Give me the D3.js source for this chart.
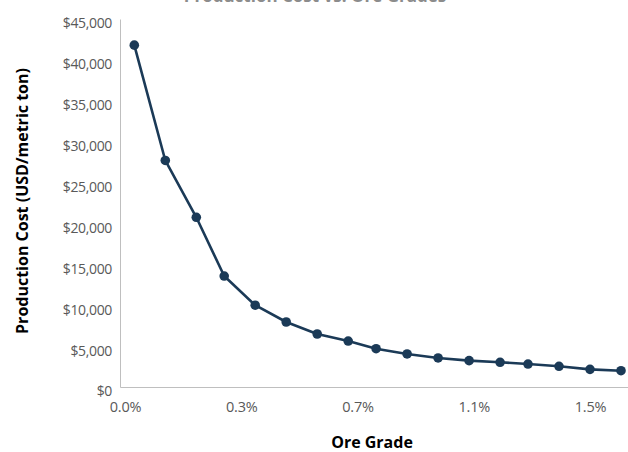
<!DOCTYPE html>
<html>
<head>
<meta charset="utf-8">
<script src="https://cdn.jsdelivr.net/npm/d3@7"></script>
<style>
  html, body { margin: 0; padding: 0; background: #fff; }
  svg { display: block; }
</style>
</head>
<body>
<svg id="chart" width="628" height="452"></svg>
<script>
// ---- data ----
const chartTitle = "Production Cost vs. Ore Grades";
const oreGrades = [0.03, 0.13, 0.23, 0.32, 0.42, 0.52, 0.62, 0.72, 0.81, 0.91, 1.01, 1.11, 1.21, 1.30, 1.40, 1.50, 1.60];
const productionCosts = [41800, 27700, 20750, 13570, 10000, 7950, 6480, 5620, 4680, 4040, 3550, 3220, 3020, 2810, 2530, 2160, 1990];
const xTickValues = [0, 0.375, 0.75, 1.125, 1.5];
const xTickLabels = ["0.0%", "0.3%", "0.7%", "1.1%", "1.5%"];
const yTickValues = [0, 5000, 10000, 15000, 20000, 25000, 30000, 35000, 40000, 45000];
const xAxisTitle = "Ore Grade";
const yAxisTitle = "Production Cost (USD/metric ton)";

// ---- layout ----
const svg = d3.select("#chart");
const plotLeft = 120, plotRight = 628, plotTop = 19, plotBottom = 387;
const pxPerPct = 310, zeroX = 125;
const x = d3.scaleLinear()
  .domain([(plotLeft - zeroX) / pxPerPct, (plotRight - zeroX) / pxPerPct])
  .range([plotLeft, plotRight]);
const y = d3.scaleLinear().domain([0, 45000]).range([plotBottom, plotTop]);

const font = "'Open Sans', 'Noto Sans', sans-serif";
const labelColor = "#595959";
const axisColor = "#bfbfbf";
const lineColor = "#1b3a57";

// title (cut off at top, as in the reference)
svg.append("text")
  .attr("x", 315).attr("y", 2)
  .attr("text-anchor", "middle")
  .attr("font-family", font).attr("font-size", 17).attr("font-weight", 700)
  .attr("fill", "#8c8c8c")
  .text(chartTitle);

// y axis
const yAxis = d3.axisLeft(y)
  .tickValues(yTickValues)
  .tickSize(0)
  .tickPadding(8)
  .tickFormat(d => "$" + d3.format(",")(d));
const gy = svg.append("g").attr("transform", `translate(${plotLeft},0)`).call(yAxis);
gy.select(".domain").attr("stroke", axisColor).attr("stroke-width", 1);
gy.selectAll(".tick text")
  .attr("font-family", font).attr("font-size", 14).attr("fill", labelColor)
  .attr("letter-spacing", "-0.35px")
  .attr("dy", "0.32em")
  .attr("transform", "translate(0,4.5)");

// x axis
const xAxis = d3.axisBottom(x)
  .tickValues(xTickValues)
  .tickSize(0)
  .tickPadding(15)
  .tickFormat((d, i) => xTickLabels[i]);
const gx = svg.append("g").attr("transform", `translate(0,${plotBottom})`).call(xAxis);
gx.select(".domain").attr("stroke", axisColor).attr("stroke-width", 1);
gx.selectAll(".tick text")
  .attr("font-family", font).attr("font-size", 14.5).attr("fill", labelColor)
  .attr("letter-spacing", "-0.2px");

// axis titles
svg.append("text")
  .attr("x", 372).attr("y", 448)
  .attr("text-anchor", "middle")
  .attr("font-family", font).attr("font-size", 16).attr("font-weight", 700)
  .attr("fill", "#000")
  .text(xAxisTitle);

svg.append("text")
  .attr("transform", "translate(28,201) rotate(-90)")
  .attr("text-anchor", "middle")
  .attr("font-family", font).attr("font-size", 16).attr("font-weight", 700)
  .attr("fill", "#000")
  .text(yAxisTitle);

// line + markers
const data = oreGrades.map((g, i) => ({ g, c: productionCosts[i] }));
svg.append("path")
  .datum(data)
  .attr("fill", "none")
  .attr("stroke", lineColor)
  .attr("stroke-width", 2.6)
  .attr("stroke-linejoin", "round")
  .attr("d", d3.line().x(d => x(d.g)).y(d => y(d.c)));

svg.append("g").selectAll("circle")
  .data(data)
  .join("circle")
  .attr("cx", d => x(d.g))
  .attr("cy", d => y(d.c))
  .attr("r", 4.8)
  .attr("fill", lineColor);
</script>
</body>
</html>
